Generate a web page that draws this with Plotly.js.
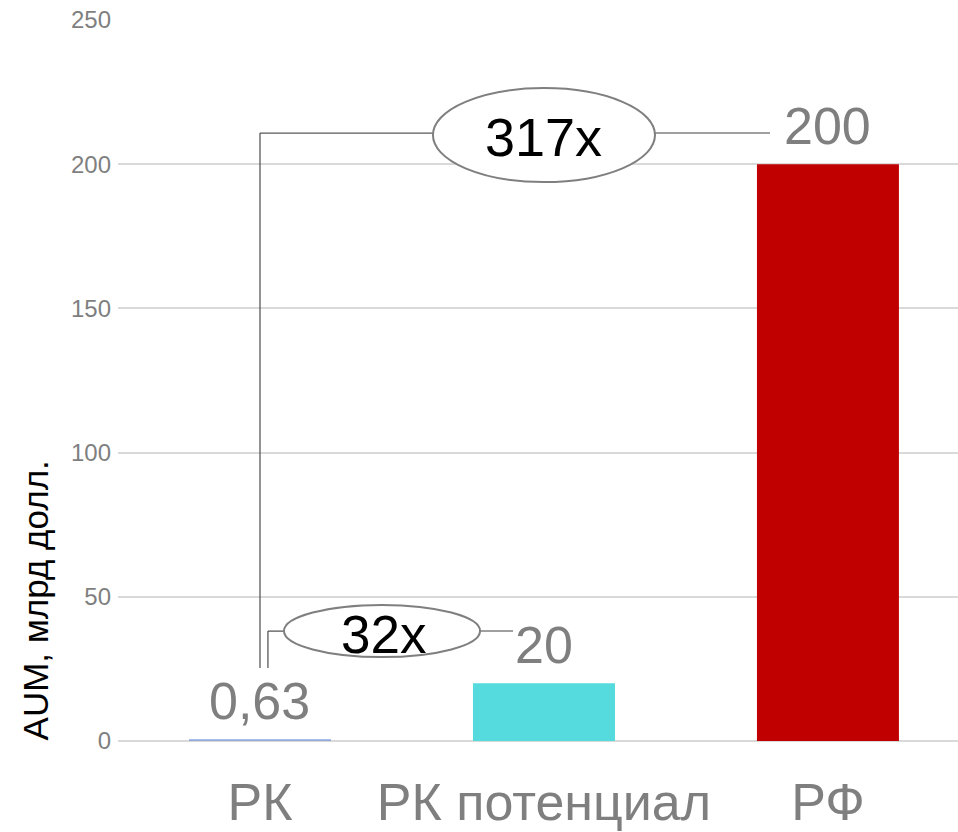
<!DOCTYPE html>
<html>
<head>
<meta charset="utf-8">
<script src="https://cdn.plot.ly/plotly-3.0.1.min.js"></script>
<style>html,body{margin:0;padding:0;background:#fff;}#chart{width:958px;height:832px;}</style>
</head>
<body>
<div id="chart"></div>
<script>
// ---- data ----
const categories = ['РК', 'РК потенциал', 'РФ'];
const values = [0.63, 20, 200];
const valueLabels = ['0,63', '20', '200'];
const barColors = ['#8FAADC', '#55DADD', '#C00000'];
const ratioLabels = ['32x', '317x'];
const yTickVals = [0, 50, 100, 150, 200, 250];
const yTitle = 'AUM, млрд долл.';

const FONT = 'Liberation Sans, Arial, sans-serif';
const grey = '#7f7f7f';
const lineCol = '#595959';

const trace = {
  type: 'bar',
  x: categories.map((c, i) => i),
  y: values,
  width: 0.5,
  marker: {color: barColors, line: {width: 0}},
  hoverinfo: 'skip'
};

// value labels above bars
const annotations = values.map((v, i) => ({
  x: i, y: v, xref: 'x', yref: 'y',
  text: valueLabels[i], showarrow: false,
  xanchor: 'center', yanchor: 'bottom', yshift: 7,
  font: {family: FONT, size: 52, color: grey}
}));

// ratio bubbles: 32x between bar 0 and 1 ; 317x between bar 0 and 2
const yBig = 210.8, ySmall = 38.1;
annotations.push({
  x: 0.435, y: ySmall - 1, xref: 'x', yref: 'y', text: ratioLabels[0], showarrow: false,
  xanchor: 'center', yanchor: 'middle', font: {family: FONT, size: 53, color: '#000'}
});
annotations.push({
  x: 1.0, y: yBig - 1.4, xref: 'x', yref: 'y', text: ratioLabels[1], showarrow: false,
  xanchor: 'center', yanchor: 'middle', font: {family: FONT, size: 54, color: '#000'}
});
// y axis title
annotations.push({
  x: -0.0988, y: 0.195, xref: 'paper', yref: 'paper', text: yTitle, showarrow: false,
  textangle: -90, xanchor: 'center', yanchor: 'middle',
  font: {family: FONT, size: 35, color: '#000'}
});

const lowY = 25.3;
const shapes = [
  // long connector (РК -> РФ)
  {type: 'line', xref: 'x', yref: 'y', x0: 0, x1: 0, y0: lowY, y1: yBig, line: {color: lineCol, width: 1.3}, layer: 'above'},
  {type: 'line', xref: 'x', yref: 'y', x0: 0, x1: 0.609, y0: yBig, y1: yBig, line: {color: lineCol, width: 1.3}, layer: 'above'},
  {type: 'line', xref: 'x', yref: 'y', x0: 1.391, x1: 1.796, y0: yBig, y1: yBig, line: {color: grey, width: 1.5}, layer: 'above'},
  {type: 'circle', xref: 'x', yref: 'y', x0: 0.609, x1: 1.391, y0: 193.8, y1: 226.4, fillcolor: '#fff', line: {color: grey, width: 2}, layer: 'above'},
  // short connector (РК -> РК потенциал)
  {type: 'line', xref: 'x', yref: 'y', x0: 0.028, x1: 0.028, y0: lowY, y1: ySmall, line: {color: lineCol, width: 1.3}, layer: 'above'},
  {type: 'line', xref: 'x', yref: 'y', x0: 0.028, x1: 0.0845, y0: ySmall, y1: ySmall, line: {color: lineCol, width: 1.3}, layer: 'above'},
  {type: 'line', xref: 'x', yref: 'y', x0: 0.775, x1: 0.891, y0: ySmall, y1: ySmall, line: {color: grey, width: 1.5}, layer: 'above'},
  {type: 'circle', xref: 'x', yref: 'y', x0: 0.0845, x1: 0.775, y0: 29.1, y1: 47.2, fillcolor: '#fff', line: {color: grey, width: 2}, layer: 'above'}
];

const layout = {
  width: 958, height: 832,
  margin: {l: 118, r: 0, t: 20, b: 91, pad: 0},
  paper_bgcolor: '#fff', plot_bgcolor: '#fff',
  showlegend: false,
  font: {family: FONT},
  xaxis: {
    range: [-0.5, 2.458], tickmode: 'array',
    tickvals: categories.map((c, i) => i), ticktext: categories,
    tickfont: {family: FONT, size: 52, color: grey},
    showgrid: false, zeroline: false, showline: false, ticks: '',
    ticklabelstandoff: 26, fixedrange: true
  },
  yaxis: {
    range: [0, 250], tickmode: 'array', tickvals: yTickVals,
    tickfont: {family: FONT, size: 24, color: grey},
    showgrid: true, gridcolor: '#d9d9d9', gridwidth: 2,
    zeroline: true, zerolinecolor: '#d9d9d9', zerolinewidth: 2,
    showline: false, ticks: '', ticklabelstandoff: 6, fixedrange: true
  },
  annotations: annotations,
  shapes: shapes
};

Plotly.newPlot('chart', [trace], layout, {displayModeBar: false, staticPlot: true});
</script>
</body>
</html>
